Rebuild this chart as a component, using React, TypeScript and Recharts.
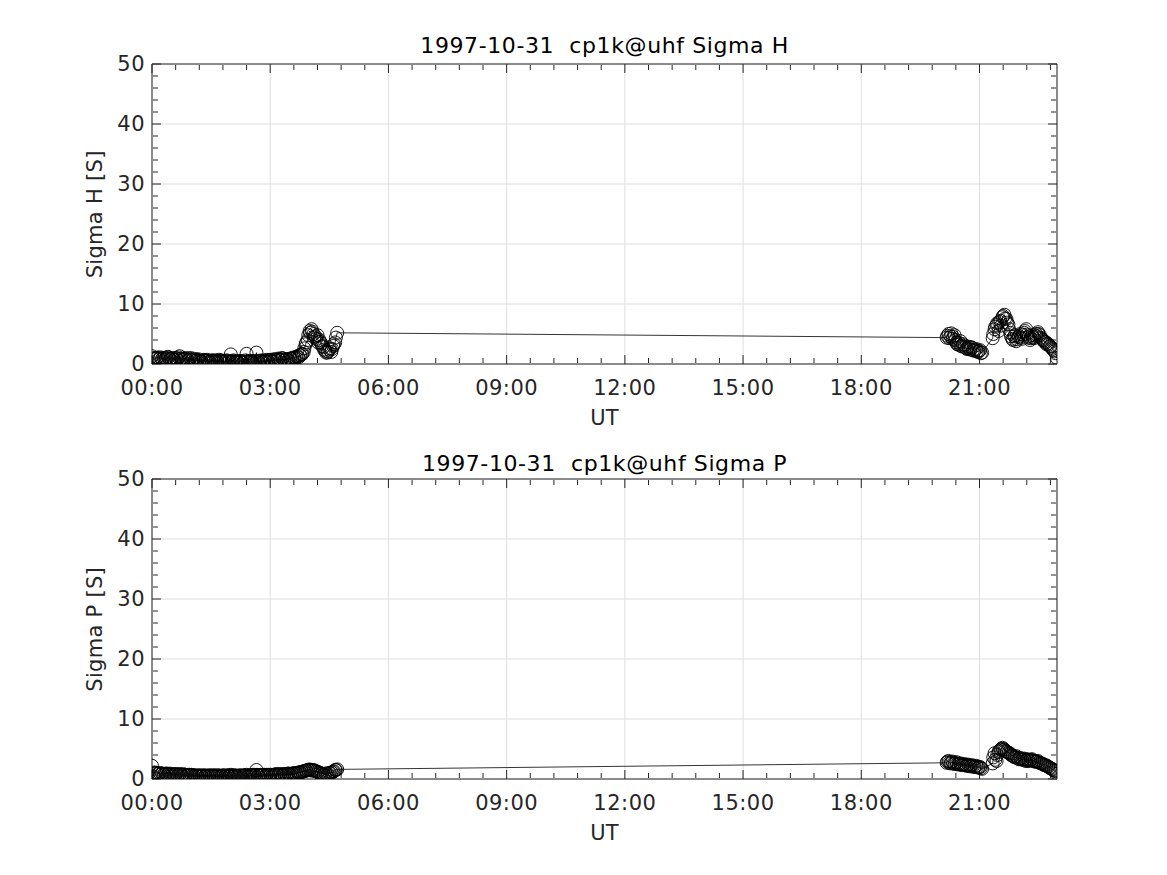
import React from 'react';
import { LineChart, Line, XAxis, YAxis, CartesianGrid } from 'recharts';

// time stamps in minutes after 00:00 UT, first block (00:00 - 04:42)
const timesA = [
  0, 2, 4, 6, 9, 12, 15, 18, 21, 24,
  27, 30, 33, 36, 39, 42, 45, 48, 51, 54,
  57, 60, 63, 66, 69, 72, 75, 78, 81, 84,
  87, 90, 93, 96, 99, 102, 105, 108, 111, 114,
  117, 120, 123, 126, 129, 132, 135, 138, 141, 144,
  147, 150, 153, 156, 159, 162, 165, 168, 171, 174,
  177, 180, 183, 186, 189, 192, 195, 198, 201, 204,
  207, 210, 213, 216, 219, 222, 225, 228, 231, 234,
  237, 240, 243, 246, 249, 252, 255, 258, 261, 264,
  267, 270, 273, 276, 279, 282,
];
// interleaved samples of the first block
const timesA2 = [
  7, 10, 13, 16, 19, 22, 25, 28, 31, 34,
  37, 40, 43, 46, 49, 52, 55, 58, 61, 64,
  67, 70, 73, 76, 79, 82, 85, 88, 91, 94,
  97, 100, 103, 106, 109, 112, 115, 118, 121, 124,
  127, 130, 133, 136, 139, 142, 145, 148, 151, 154,
  157, 160, 163, 166, 169, 172, 175, 178, 181, 184,
  187, 190, 193, 196, 199, 202, 205, 208, 211, 214,
  217, 220, 223, 226, 229, 232, 235, 238, 241, 244,
  247, 250, 253, 256, 259, 262, 265, 268, 271, 274,
  277, 280,
];
// second block (20:10 - 22:58)
const timesB = [
  1210, 1213, 1216, 1219, 1222, 1225, 1228, 1231, 1234, 1237,
  1240, 1243, 1246, 1249, 1252, 1255, 1258, 1261, 1264,
  1280, 1283, 1286, 1289, 1292, 1295, 1298, 1301, 1304, 1307,
  1310, 1313, 1316, 1319, 1322, 1325, 1328, 1331, 1334, 1337,
  1340, 1343, 1346, 1349, 1352, 1355, 1358, 1361, 1364, 1367,
  1370, 1373, 1376, 1378,
];
const timesB2 = [
  1211, 1214, 1217, 1220, 1223, 1226, 1229, 1232, 1235, 1238,
  1241, 1244, 1247, 1250, 1253, 1256, 1259, 1262,
  1281, 1284, 1287, 1290, 1293, 1296, 1299, 1302, 1305, 1308,
  1311, 1314, 1317, 1320, 1323, 1326, 1329, 1332, 1335, 1338,
  1341, 1344, 1347, 1350, 1353, 1356, 1359, 1362, 1365, 1368,
  1371, 1374,
];

const sigmaHA = [
  1.3, 0.8, 1.0, 0.9, 1.1, 0.9, 0.8, 1.0, 0.9, 1.2,
  0.8, 0.9, 0.7, 1.0, 0.8, 1.3, 0.9, 0.8, 1.0, 0.7,
  0.8, 0.6, 0.9, 0.5, 0.7, 0.6, 0.4, 0.6, 0.5, 0.7,
  0.4, 0.5, 0.6, 0.4, 0.5, 0.7, 0.4, 0.5, 0.3, 0.6,
  0.4, 1.6, 0.5, 0.3, 0.4, 0.2, 0.5, 0.3, 0.4, 1.7,
  0.3, 0.5, 0.2, 0.4, 1.9, 0.3, 0.5, 0.4, 0.6, 0.3,
  0.5, 0.7, 0.4, 0.8, 0.6, 0.9, 0.7, 1.0, 0.6, 0.8,
  0.7, 0.9, 0.8, 1.1, 1.0, 1.3, 1.5, 1.6, 2.0, 3.3,
  4.0, 5.5, 5.8, 5.0, 4.6, 4.8, 4.0, 3.4, 2.8, 2.2,
  1.9, 2.4, 2.0, 3.0, 3.6, 5.2,
];
const sigmaHA2 = [
  1.0, 0.8, 1.1, 0.9, 0.7, 1.0, 1.1, 0.8, 1.0, 0.7,
  0.9, 1.1, 0.8, 0.7, 0.9, 0.8, 0.6, 1.0, 0.7, 0.5,
  0.6, 0.8, 0.5, 0.4, 0.7, 0.6, 0.5, 0.3, 0.6, 0.5,
  0.6, 0.3, 0.5, 0.6, 0.4, 0.5, 0.3, 0.5, 0.4, 0.6,
  0.4, 0.3, 0.5, 0.4, 0.2, 0.6, 0.4, 0.3, 0.5, 0.3,
  0.5, 0.4, 0.3, 0.6, 0.4, 0.5, 0.7, 0.3, 0.6, 0.5,
  0.7, 0.5, 0.8, 0.6, 0.9, 0.7, 0.8, 0.6, 0.9, 1.0,
  1.0, 1.2, 1.1, 1.4, 1.7, 2.6, 3.6, 4.8, 5.2, 5.4,
  4.4, 4.2, 3.6, 3.7, 3.0, 2.4, 1.9, 2.1, 2.6, 2.5,
  3.3, 4.4,
];
const sigmaHB = [
  4.4, 5.0, 4.6, 4.2, 4.8, 3.6, 3.2, 3.8, 2.9, 3.1,
  2.6, 2.9, 2.4, 2.7, 2.2, 2.5, 2.0, 2.3, 1.9,
  4.3, 5.8, 6.5, 5.5, 7.2, 7.8, 8.2, 7.5, 6.6, 5.2,
  4.2, 4.6, 3.8, 4.5, 5.0, 4.2, 5.2, 5.8, 4.4, 4.0,
  4.8, 4.3, 5.0, 5.3, 4.8, 4.2, 3.9, 3.6, 3.4, 3.0,
  2.7, 2.3, 1.8, 1.0,
];
const sigmaHB2 = [
  4.7, 4.3, 5.1, 4.5, 4.0, 3.3, 3.5, 3.0, 3.3, 2.8,
  2.5, 2.6, 2.8, 2.3, 2.4, 2.1, 2.2, 1.8,
  5.0, 6.2, 6.8, 7.0, 6.4, 8.0, 7.6, 6.9, 5.8, 4.6,
  4.0, 4.8, 4.1, 4.7, 4.4, 4.9, 5.5, 4.9, 4.6, 4.3,
  4.5, 4.8, 4.6, 5.0, 4.4, 4.0, 3.7, 3.3, 3.2, 2.9,
  2.5, 2.1,
];

const sigmaPA = [
  2.2, 0.4, 1.1, 1.0, 0.9, 1.0, 0.9, 0.8, 0.9, 0.8,
  0.9, 0.7, 0.8, 0.8, 0.7, 0.8, 0.7, 0.8, 0.7, 0.6,
  0.7, 0.7, 0.6, 0.6, 0.5, 0.6, 0.5, 0.6, 0.5, 0.6,
  0.5, 0.6, 0.5, 0.6, 0.5, 0.6, 0.5, 0.6, 0.5, 0.6,
  0.5, 0.7, 0.5, 0.6, 0.5, 0.5, 0.6, 0.5, 0.6, 0.7,
  0.5, 0.6, 0.6, 0.7, 1.5, 0.6, 0.7, 0.6, 0.7, 0.6,
  0.7, 0.7, 0.6, 0.7, 0.8, 0.7, 0.8, 0.7, 0.8, 0.8,
  0.9, 0.8, 0.9, 0.9, 1.0, 1.0, 1.1, 1.2, 1.3, 1.4,
  1.5, 1.6, 1.4, 1.5, 1.3, 1.2, 1.0, 0.9, 0.8, 0.9,
  0.8, 1.0, 1.1, 1.2, 1.5, 1.6,
];
const sigmaPA2 = [
  1.0, 0.9, 0.8, 0.9, 0.8, 0.9, 0.8, 0.7, 0.8, 0.7,
  0.8, 0.7, 0.8, 0.6, 0.7, 0.6, 0.7, 0.6, 0.6, 0.5,
  0.6, 0.5, 0.6, 0.5, 0.6, 0.5, 0.5, 0.6, 0.5, 0.6,
  0.5, 0.6, 0.5, 0.5, 0.6, 0.5, 0.6, 0.5, 0.6, 0.5,
  0.6, 0.5, 0.6, 0.5, 0.6, 0.6, 0.5, 0.6, 0.6, 0.7,
  0.6, 0.7, 0.6, 0.6, 0.7, 0.6, 0.7, 0.6, 0.7, 0.7,
  0.7, 0.8, 0.7, 0.8, 0.7, 0.8, 0.8, 0.9, 0.8, 0.9,
  1.0, 0.9, 1.1, 1.1, 1.2, 1.3, 1.4, 1.5, 1.5, 1.5,
  1.4, 1.3, 1.1, 1.0, 0.9, 0.8, 0.9, 0.9, 1.0, 1.1,
  1.3, 1.5,
];
const sigmaPB = [
  2.7, 3.0, 2.6, 2.9, 2.5, 2.8, 2.4, 2.6, 2.3, 2.5,
  2.2, 2.4, 2.1, 2.3, 2.0, 2.2, 1.9, 2.0, 1.7,
  2.6, 4.3, 3.0, 4.5, 4.9, 5.2, 4.9, 4.6, 4.4, 4.2,
  3.9, 3.7, 3.8, 3.4, 3.5, 3.2, 3.4, 3.0, 3.2, 3.1,
  3.3, 3.0, 2.9, 3.0, 2.7, 2.6, 2.4, 2.3, 2.1, 1.9,
  1.7, 1.5, 1.3, 0.9,
];
const sigmaPB2 = [
  2.9, 2.7, 2.8, 2.6, 2.7, 2.5, 2.5, 2.4, 2.4, 2.3,
  2.3, 2.2, 2.2, 2.1, 2.1, 2.0, 2.0, 1.8,
  3.6, 3.2, 4.0, 4.7, 5.0, 5.0, 4.7, 4.5, 4.3, 4.0,
  3.8, 3.6, 3.6, 3.3, 3.4, 3.3, 3.1, 3.3, 3.0, 3.2,
  3.1, 2.9, 2.9, 2.8, 2.6, 2.5, 2.3, 2.2, 2.0, 1.8,
  1.6, 1.4,
];

const xMajor = [0, 3, 6, 9, 12, 15, 18, 21];
const xMinor = [
  0.6, 1.2, 1.8, 2.4, 3.6, 4.2, 4.8, 5.4, 6.6, 7.2, 7.8, 8.4, 9.6, 10.2, 10.8, 11.4,
  12.6, 13.2, 13.8, 14.4, 15.6, 16.2, 16.8, 17.4, 18.6, 19.2, 19.8, 20.4, 21.6, 22.2, 22.8,
];
const yMajor = [0, 10, 20, 30, 40, 50];
const yMinor = [2, 4, 6, 8, 12, 14, 16, 18, 22, 24, 26, 28, 32, 34, 36, 38, 42, 44, 46, 48];

const titleH = '1997-10-31  cp1k@uhf Sigma H';
const titleP = '1997-10-31  cp1k@uhf Sigma P';
const yLabelH = 'Sigma H [S]';
const yLabelP = 'Sigma P [S]';
const xLabel = 'UT';

const X_END = 1378 / 60;
const FONT = '"DejaVu Sans", sans-serif';
const TXT = '#262626';

type Pt = { t: number; v: number };
const pairs = (ts: number[], vs: number[]): Pt[] => ts.map((m, i) => ({ t: m / 60, v: vs[i] }));
const build = (blocks: [number[], number[]][]) =>
  blocks.flatMap(([ts, vs]) => pairs(ts, vs)).sort((a, b) => a.t - b.t);

const dataH = build([[timesA, sigmaHA], [timesA2, sigmaHA2], [timesB, sigmaHB], [timesB2, sigmaHB2]]);
const dataP = build([[timesA, sigmaPA], [timesA2, sigmaPA2], [timesB, sigmaPB], [timesB2, sigmaPB2]]);

const fmtTime = (h: number) => String(h).padStart(2, '0') + ':00';

const EmptyTick = () => <g />;

function Panel(props: { data: Pt[]; top: number; height: number; mTop: number; mBottom: number }) {
  const { data, top, height, mTop, mBottom } = props;
  const tickStyle = { fontSize: 21, fill: TXT, fontFamily: FONT, letterSpacing: 0.5 };
  const mirrorX = (id: string, ticks: number[], size: number, orientation: 'top' | 'bottom', line: boolean) => (
    <XAxis
      key={id}
      xAxisId={id}
      type="number"
      dataKey="t"
      domain={[0, X_END]}
      allowDataOverflow
      ticks={ticks}
      interval={0}
      orientation={orientation}
      mirror
      height={1}
      tick={EmptyTick}
      tickSize={size}
      tickLine={{ stroke: TXT, strokeWidth: 1 }}
      axisLine={line ? { stroke: TXT, strokeWidth: 1 } : false}
    />
  );
  const mirrorY = (id: string, ticks: number[], size: number, orientation: 'left' | 'right', line: boolean) => (
    <YAxis
      key={id}
      yAxisId={id}
      type="number"
      domain={[0, 50]}
      allowDataOverflow
      ticks={ticks}
      interval={0}
      orientation={orientation}
      mirror
      width={1}
      tick={EmptyTick}
      tickSize={size}
      tickLine={{ stroke: TXT, strokeWidth: 1 }}
      axisLine={line ? { stroke: TXT, strokeWidth: 1 } : false}
    />
  );
  return (
    <div style={{ position: 'absolute', left: 0, top, width: 1167, height }}>
      <LineChart width={1167} height={height} data={data} margin={{ top: mTop, right: 110, bottom: mBottom, left: 82 }}>
        <CartesianGrid stroke="#dedede" strokeWidth={1} />
        <XAxis
          dataKey="t"
          type="number"
          domain={[0, X_END]}
          allowDataOverflow
          ticks={xMajor}
          interval={0}
          tickFormatter={fmtTime}
          tickLine={false}
          tickSize={0}
          tickMargin={16}
          height={60}
          axisLine={{ stroke: TXT, strokeWidth: 1 }}
          tick={tickStyle}
        />
        {mirrorX('bM', xMajor, 9, 'bottom', false)}
        {mirrorX('bN', xMinor, 5, 'bottom', false)}
        {mirrorX('tM', xMajor, 9, 'top', true)}
        {mirrorX('tN', xMinor, 5, 'top', false)}
        <YAxis
          type="number"
          domain={[0, 50]}
          allowDataOverflow
          ticks={yMajor}
          interval={0}
          tickLine={false}
          tickSize={0}
          tickMargin={7}
          width={70}
          axisLine={{ stroke: TXT, strokeWidth: 1 }}
          tick={tickStyle}
        />
        {mirrorY('lM', yMajor, 9, 'left', false)}
        {mirrorY('lN', yMinor, 5, 'left', false)}
        {mirrorY('rM', yMajor, 9, 'right', true)}
        {mirrorY('rN', yMinor, 5, 'right', false)}
        <Line
          dataKey="v"
          type="linear"
          stroke="#000"
          strokeWidth={0.8}
          dot={{ r: 6.5, fill: 'none', stroke: '#000', strokeWidth: 0.9 }}
          activeDot={false}
          isAnimationActive={false}
        />
      </LineChart>
    </div>
  );
}

export default function App() {
  const pre = { whiteSpace: 'pre' as const };
  return (
    <div style={{ position: 'absolute', left: 0, top: 0, width: 1167, height: 875, background: '#fff', fontFamily: FONT }}>
      <Panel data={dataH} top={0} height={437} mTop={64} mBottom={13} />
      <Panel data={dataP} top={437} height={438} mTop={42} mBottom={36} />
      <svg width={1167} height={875} style={{ position: 'absolute', left: 0, top: 0, pointerEvents: 'none' }}>
        <g fontFamily={FONT}>
          <text x={604.6} y={53.3} textAnchor="middle" fontSize={22} letterSpacing={0.6} fill="#000" style={pre}>{titleH}</text>
          <text x={604.6} y={470.7} textAnchor="middle" fontSize={22} letterSpacing={0.6} fill="#000" style={pre}>{titleP}</text>
          <text x={604.6} y={425} textAnchor="middle" fontSize={21} letterSpacing={0.3} fill={TXT}>{xLabel}</text>
          <text x={604.6} y={840} textAnchor="middle" fontSize={21} letterSpacing={0.3} fill={TXT}>{xLabel}</text>
          <text x={101.7} y={214.3} textAnchor="middle" fontSize={21} letterSpacing={0.3} fill={TXT} transform="rotate(-90 101.7 214.3)">{yLabelH}</text>
          <text x={101.7} y={629.3} textAnchor="middle" fontSize={21} letterSpacing={0.3} fill={TXT} transform="rotate(-90 101.7 629.3)">{yLabelP}</text>
        </g>
      </svg>
    </div>
  );
}
